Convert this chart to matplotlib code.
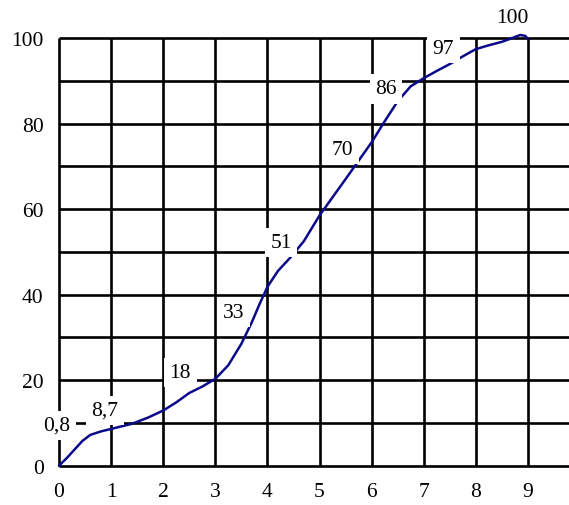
import matplotlib
matplotlib.use("Agg")
import matplotlib.pyplot as plt

# Curve data
curve_x = [0, 0.15, 0.3, 0.45, 0.6, 0.8, 1.0, 1.4, 1.7, 2.0, 2.25, 2.5, 2.75, 3.0, 3.25, 3.5, 3.7, 3.85,
           4.0, 4.2, 4.45, 4.7, 5.0, 5.5, 6.0, 6.25, 6.5, 6.75, 7.0, 7.25, 7.5, 7.75, 8.0, 8.25, 8.5,
           8.7, 8.85, 8.95, 9.0]
curve_y = [0, 1.8, 3.8, 5.8, 7.2, 8.0, 8.6, 9.8, 11.2, 12.9, 14.8, 17.0, 18.5, 20.3, 23.5, 28.5, 33.5, 37.8,
           41.8, 45.5, 48.8, 52.5, 58.5, 67.0, 75.6, 80.5, 85.2, 88.7, 90.6, 92.3, 93.9, 95.7, 97.4, 98.3, 99.1,
           100.0, 100.7, 100.5, 99.8]

# Annotation labels
label_text = ["0,8", "8,7", "18", "33", "51", "70", "86", "97", "100"]
label_x = [-0.04, 0.88, 2.33, 3.35, 4.26, 5.44, 6.28, 7.38, 8.70]
label_y = [9.4, 12.9, 21.8, 35.9, 52.2, 74.0, 88.1, 97.6, 104.8]

x_ticks = list(range(10))
y_ticks = list(range(0, 101, 20))
h_lines = list(range(0, 101, 10))

plt.rcParams['font.family'] = ['Liberation Serif', 'DejaVu Serif']

W, H = 569, 506
fig = plt.figure(figsize=(W / 100, H / 100), dpi=100)
left = 59 / W
bottom = (H - 466.7) / H
top = (H - 39) / H
ax = fig.add_axes([left, bottom, 1 - left, top - bottom])
xmax = (W - 59) / 52.1
ax.set_xlim(0, xmax)
ax.set_ylim(0, 100)

for s in ax.spines.values():
    s.set_visible(False)

ax.hlines(h_lines, 0, xmax, colors='black', linewidth=1.9, zorder=1, clip_on=False)
ax.vlines(x_ticks, 0, 100, colors='black', linewidth=1.9, zorder=1, clip_on=False)

ax.plot(curve_x, curve_y, color='#0a0a8a', linewidth=1.8, zorder=2, clip_on=False,
        solid_joinstyle='round', solid_capstyle='round')

for t, x, y in zip(label_text, label_x, label_y):
    ax.text(x, y, t, fontsize=15.5, ha='center', va='center', zorder=3, clip_on=False,
            bbox=dict(boxstyle='square,pad=0.25', fc='white', ec='none'))

ax.set_xticks(x_ticks)
ax.set_yticks(y_ticks)
ax.tick_params(axis='both', length=0, labelsize=15.5)
ax.tick_params(axis='x', pad=12)
ax.tick_params(axis='y', pad=11)

fig.savefig('out.png', dpi=100)
